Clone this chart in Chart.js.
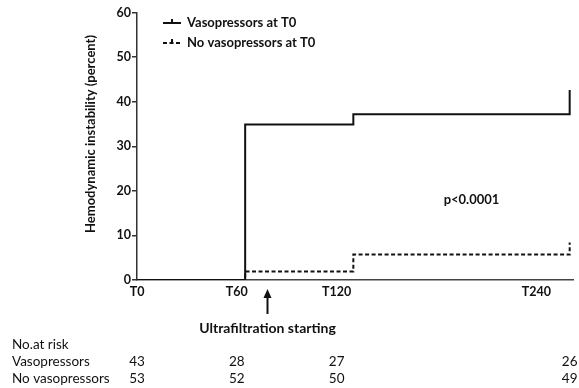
<!DOCTYPE html>
<html>
<head>
<meta charset="utf-8">
<script src="https://cdn.jsdelivr.net/npm/chart.js@4.4.1/dist/chart.umd.min.js"></script>
<style>
  html, body { margin: 0; padding: 0; background: #fff; }
</style>
</head>
<body>
<canvas id="kmChart" width="579" height="388"></canvas>
<script>
// Kaplan-Meier style curves: event times (min) and cumulative percent
const timePoints = [0, 65, 130, 260, 260];
const vasoValues = [0, 34.9, 37.2, 37.2, 42.6];
const noVasoValues = [0, 1.9, 5.7, 5.7, 8.4];
const seriesNames = ['Vasopressors at T0', 'No vasopressors at T0'];

const xTickValues = [0, 60, 120, 240];
const xTickLabels = ['T0', 'T60', 'T120', 'T240'];

// numbers at risk under the axis
const riskTimes = [0, 60, 120, 260];
const riskVaso = [43, 28, 27, 26];
const riskNoVaso = [53, 52, 50, 49];
const riskNames = ['Vasopressors', 'No vasopressors'];

const pValueText = 'p<0.0001';
const ufStartTime = 78;

const FONT = 'Lato, "Liberation Sans", sans-serif';
const INK = '#111';

function toXY(xs, ys) {
  return xs.map((x, i) => ({ x: x, y: ys[i] }));
}

const extras = {
  id: 'extras',
  afterDraw(chart) {
    const ctx = chart.ctx;
    const xs = chart.scales.x;
    const ys = chart.scales.y;
    ctx.save();

    // y axis title
    ctx.fillStyle = INK;
    ctx.font = 'bold 13px ' + FONT;
    ctx.textAlign = 'center';
    ctx.textBaseline = 'middle';
    ctx.translate(91, 134);
    ctx.rotate(-Math.PI / 2);
    ctx.fillText('Hemodynamic instability (percent)', 0, 0);
    ctx.setTransform(1, 0, 0, 1, 0, 0);

    // legend
    chart.data.datasets.forEach((ds, i) => {
      const y = 23 + i * 20;
      ctx.strokeStyle = ds.borderColor;
      ctx.lineWidth = 2;
      ctx.setLineDash(ds.borderDash || []);
      ctx.beginPath();
      ctx.moveTo(163, y);
      ctx.lineTo(181, y);
      ctx.stroke();
      ctx.setLineDash([]);
      ctx.beginPath();
      ctx.moveTo(172, y);
      ctx.lineTo(172, y - 4);
      ctx.stroke();
      ctx.fillStyle = INK;
      ctx.font = 'bold 13px ' + FONT;
      ctx.textAlign = 'left';
      ctx.fillText(ds.label, 187, y);
    });

    // p value
    ctx.textAlign = 'center';
    ctx.fillText(pValueText, xs.getPixelForValue(201), ys.getPixelForValue(18));

    // ultrafiltration arrow
    const ax = Math.round(xs.getPixelForValue(ufStartTime)) + 0.5;
    ctx.strokeStyle = INK;
    ctx.lineWidth = 2;
    ctx.beginPath();
    ctx.moveTo(ax, 314);
    ctx.lineTo(ax, 296);
    ctx.stroke();
    ctx.beginPath();
    ctx.moveTo(ax, 289);
    ctx.lineTo(ax - 4, 298);
    ctx.lineTo(ax + 4, 298);
    ctx.closePath();
    ctx.fill();
    ctx.font = 'bold 14px ' + FONT;
    ctx.fillText('Ultrafiltration starting', ax, 328);

    // number at risk table
    ctx.font = '13.5px ' + FONT;
    ctx.textBaseline = 'alphabetic';
    ctx.textAlign = 'left';
    ctx.fillText('No.at risk', 12, 349);
    ctx.fillText(riskNames[0], 12, 366);
    ctx.fillText(riskNames[1], 12, 383);
    ctx.textAlign = 'center';
    riskTimes.forEach((t, i) => {
      const px = Math.min(xs.getPixelForValue(t), 570);
      ctx.fillText(String(riskVaso[i]), px, 366);
      ctx.fillText(String(riskNoVaso[i]), px, 383);
    });
    ctx.restore();
  }
};

new Chart(document.getElementById('kmChart'), {
  type: 'line',
  data: {
    datasets: [
      {
        label: seriesNames[0],
        data: toXY(timePoints, vasoValues),
        borderColor: '#111',
        borderWidth: 2,
        stepped: 'before',
        pointRadius: 0,
        fill: false
      },
      {
        label: seriesNames[1],
        data: toXY(timePoints, noVasoValues),
        borderColor: '#111',
        borderWidth: 2,
        borderDash: [4, 2.5],
        stepped: 'before',
        pointRadius: 0,
        fill: false
      }
    ]
  },
  options: {
    responsive: false,
    animation: false,
    layout: { padding: { left: 0, right: 6, top: 12.5, bottom: 78 } },
    plugins: {
      legend: { display: false },
      tooltip: { enabled: false }
    },
    scales: {
      x: {
        type: 'linear',
        min: 0,
        max: 262,
        afterBuildTicks: (scale) => {
          scale.ticks = xTickValues.map(v => ({ value: v }));
        },
        afterFit: (scale) => { scale.height = 30; },
        ticks: {
          callback: (v) => xTickLabels[xTickValues.indexOf(v)],
          font: { family: FONT, size: 12.5, weight: 'bold' },
          color: INK,
          padding: 4.5,
          maxRotation: 0,
          autoSkip: false
        },
        grid: { display: false, drawTicks: false },
        border: { display: true, color: '#444', width: 1.5 }
      },
      y: {
        min: 0,
        max: 60,
        afterFit: (scale) => { scale.width = 137; },
        ticks: {
          stepSize: 10,
          font: { family: FONT, size: 12.5, weight: 'bold' },
          color: INK,
          padding: 1
        },
        grid: { drawOnChartArea: false, drawTicks: true, tickLength: 5, color: '#333', lineWidth: 1.5 },
        border: { display: true, color: '#333', width: 1.5 }
      }
    }
  },
  plugins: [extras]
});
</script>
</body>
</html>
